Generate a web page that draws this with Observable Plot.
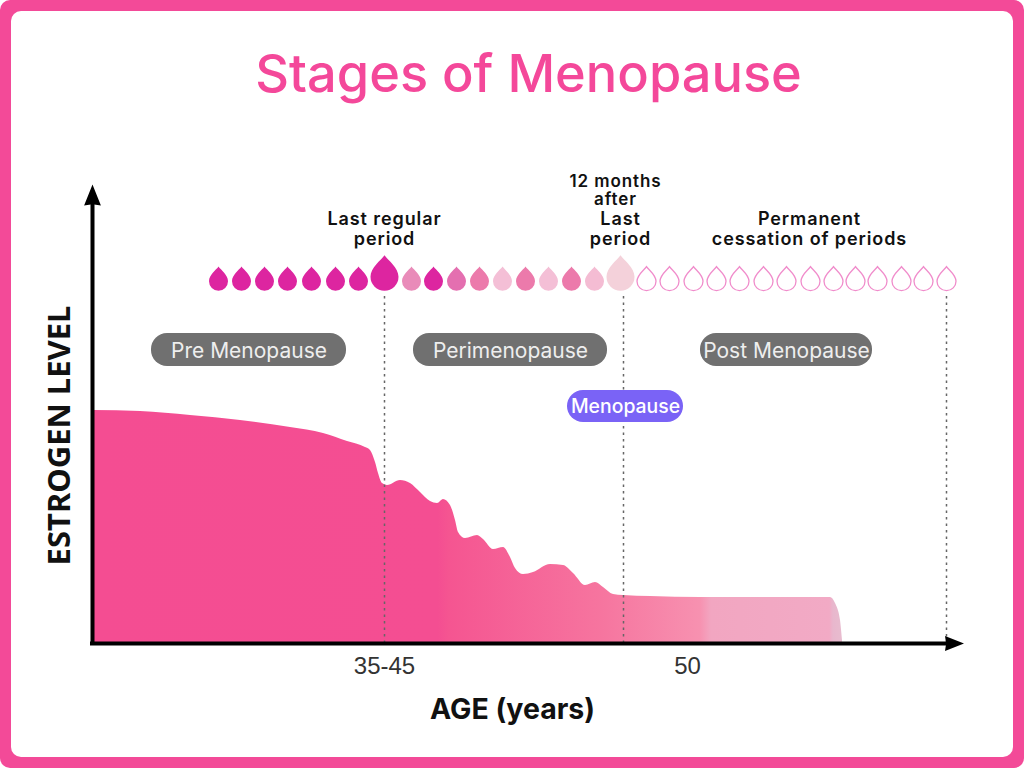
<!DOCTYPE html>
<html>
<head>
<meta charset="utf-8">
<script src="https://cdn.jsdelivr.net/npm/d3@7"></script>
<script src="https://cdn.jsdelivr.net/npm/@observablehq/plot@0.6"></script>
<style>
html,body{margin:0;padding:0;background:#fff;overflow:hidden}
#page{position:relative;width:1024px;height:768px;background:#f34a98;overflow:hidden;border-radius:10px}
#inner{position:absolute;left:11px;top:11px;right:11px;bottom:11px;background:#fff;border-radius:10px}
#chart{position:absolute;left:0;top:0}
#chart svg{display:block;background:transparent;overflow:visible}
.tracked text{letter-spacing:.9px}
</style>
</head>
<body>
<div id="page"><div id="inner"></div><div id="chart"></div></div>
<script>
// Estrogen curve: position along the age axis, and level above the axis
const curveX = [0,47,97,147,197,230,254,272,277,282,285,289,294,307,317,327,337,344,350,357,362,365,372,384,390,400,410,417,422,430,440,457,470,480,492,502,510,520,530,557,607,680,737,742,747,749];
const curveLevel = [233,232,228,223,216,210,202,196,193,181,170,160,158,163,160,151,142,140,144,138,123,111,105,108,104,94,96,86,75,69,71,79,78,70,58,61,56,49,48,47,46,46,46,40,23,3];

const pureColor = "#dd25a0", lightStep = "#ec7aab", paleStep = "#f4bfd6", hollow = "#f08ccb";
const dropX = [125,148,171,194,218,242,265,318,340,363,386,409,432,455,478,501,553,576,600,623,646,670,693,717,740,762,784,808,830,853];
const dropColor = [pureColor,pureColor,pureColor,pureColor,pureColor,pureColor,pureColor,"#e98bb9",pureColor,"#e46fb0",lightStep,paleStep,lightStep,paleStep,lightStep,"#f4bcd3","none","none","none","none","none","none","none","none","none","none","none","none","none","none"];
const dropStroke = dropX.map((_, i) => i < 16 ? "none" : hollow);
const bigDropX = [291,527];
const bigDropColor = [pureColor,"#f4d1da"];

const milestoneX = [291,530,853];
const tickX = [291,594];
const tickLabels = ["35-45","50"];

const stageNames = ["Pre Menopause","Perimenopause","Post Menopause"];
const stageStart = [58,320,607];
const stageEnd = [253,514,779];
const menopauseBand = {name:"Menopause", x1:474, x2:590, y1:221, y2:253};

const notes = [
  {text:"Last regular\nperiod", x:291, y:415},
  {text:"Last\nperiod", x:527, y:415},
  {text:"Permanent\ncessation of periods", x:716, y:415}
];
const topNote = [{text:"12 months\nafter", x:522, y:453}];

const series = curveX.map((x,i)=>({x, level:curveLevel[i]}));
const smallDrops = dropX.map((x,i)=>({x, fill:dropColor[i], stroke:dropStroke[i]}));
const bigDrops = bigDropX.map((x,i)=>({x, fill:bigDropColor[i]}));
const stages = stageNames.map((name,i)=>({name, x1:stageStart[i], x2:stageEnd[i]}));

const drop = {draw(c, size){
  const r = Math.sqrt(size/Math.PI);
  c.moveTo(0,-1.52*r);
  c.bezierCurveTo(0.25*r,-1.15*r, r,-0.65*r, r,0.02*r);
  c.arc(0,0.02*r,r,0,Math.PI);
  c.bezierCurveTo(-r,-0.65*r, -0.25*r,-1.15*r, 0,-1.52*r);
  c.closePath();
}};
const head = {draw(c, size){
  const r = Math.sqrt(size/Math.PI);
  c.moveTo(0,-r);
  c.lineTo(r*0.8,r);
  c.lineTo(0,r*0.88);
  c.lineTo(-r*0.8,r);
  c.closePath();
}};

const gradient = () => {
  const defs = d3.create("svg:defs");
  const g = defs.append("linearGradient").attr("id","estrogenFade");
  [[0,"#f44d92"],[0.46,"#f44e92"],[0.475,"#f55591"],[0.68,"#f6759f"],[0.81,"#f791b0"],[0.825,"#f2a6c1"],[0.983,"#f2aac5"],[0.988,"#e8b7cd"],[1,"#e8bccf"]]
    .forEach(([o,c]) => g.append("stop").attr("offset",o).attr("stop-color",c));
  return defs.node();
};

const inter = "Inter, 'Noto Sans', sans-serif";
const chart = Plot.plot({
  width:1024, height:768,
  marginLeft:93, marginRight:61, marginTop:190, marginBottom:125,
  x:{domain:[0,870]},
  y:{domain:[0,453], axis:null},
  style:{background:"transparent", overflow:"visible"},
  marks:[
    gradient,
    Plot.areaY(series,{x:"x", y:"level", curve:"monotone-x", fill:"url(#estrogenFade)"}),
    Plot.ruleX(milestoneX,{y1:0, y2:347, stroke:"#666", strokeWidth:1.5, strokeDasharray:"2.5 4"}),
    Plot.axisX({ticks:tickX, tickFormat:d=>tickLabels[tickX.indexOf(d)], tickSize:0, tickPadding:13, fontSize:24, fontFamily:"'Liberation Sans', sans-serif", fill:"#333", label:null, anchor:"bottom"}),
    Plot.ruleY([0],{x1:-3, x2:856, stroke:"#000", strokeWidth:4}),
    Plot.ruleX([-1],{y1:-2, y2:442, stroke:"#000", strokeWidth:4}),
    Plot.dot([{x:-1,y:448.5}],{x:"x", y:"y", r:10.5, symbol:head, fill:"#000", stroke:"none"}),
    Plot.dot([{x:861,y:0}],{x:"x", y:"y", r:9.5, symbol:head, rotate:90, fill:"#000", stroke:"none"}),
    Plot.dot(smallDrops,{x:"x", y:()=>362.5, r:9.5, symbol:drop, fill:"fill", stroke:"stroke", strokeWidth:1.3}),
    Plot.dot(bigDrops,{x:"x", y:()=>367, r:14, symbol:drop, fill:"fill", stroke:"none"}),
    Plot.rect(stages,{x1:"x1", x2:"x2", y1:()=>277, y2:()=>310, fill:"#707070", r:16}),
    Plot.text(stages,{x:d=>(d.x1+d.x2)/2, y:()=>292.5, text:"name", fill:"#eeeeee", fontSize:21, fontFamily:inter}),
    Plot.rect([menopauseBand],{x1:"x1", x2:"x2", y1:"y1", y2:"y2", fill:"#7a63f6", r:16}),
    Plot.text([menopauseBand],{x:d=>(d.x1+d.x2)/2, y:()=>237, text:"name", fill:"#fff", fontSize:19.4, fontWeight:500, fontFamily:inter}),
    Plot.text(notes,{className:"tracked", x:"x", y:"y", text:"text", lineAnchor:"middle", lineHeight:1.11, fontSize:18, fontWeight:600, fill:"#111", fontFamily:inter}),
    Plot.text(topNote,{className:"tracked", x:"x", y:"y", text:"text", lineAnchor:"middle", lineHeight:1.06, fontSize:17, fontWeight:600, fill:"#111", fontFamily:inter}),
    Plot.text(["AGE (years)"],{x:()=>419, y:()=>-66, fontSize:28.5, fontWeight:700, fill:"#111", fontFamily:inter}),
    Plot.text(["ESTROGEN LEVEL"],{x:()=>-33, y:()=>208, rotate:-90, fontSize:31, fontWeight:700, fill:"#111", fontFamily:"'Noto Sans', sans-serif"}),
    Plot.text(["Stages of Menopause"],{x:()=>435, y:()=>568, fontSize:52.3, fontWeight:500, fill:"#f4489a", fontFamily:inter})
  ]
});
document.getElementById("chart").appendChild(chart);
</script>
</body>
</html>
